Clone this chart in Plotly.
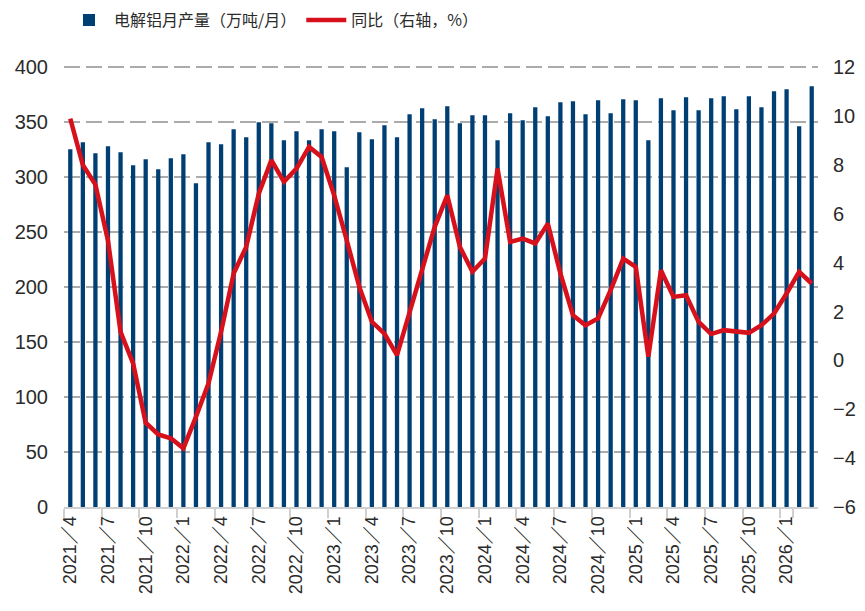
import plotly.graph_objects as go

months = [
    "2021／4", "2021／5", "2021／6", "2021／7", "2021／8", "2021／9", "2021／10", "2021／11", "2021／12",
    "2022／1", "2022／2", "2022／3", "2022／4", "2022／5", "2022／6", "2022／7", "2022／8", "2022／9",
    "2022／10", "2022／11", "2022／12", "2023／1", "2023／2", "2023／3", "2023／4", "2023／5", "2023／6",
    "2023／7", "2023／8", "2023／9", "2023／10", "2023／11", "2023／12", "2024／1", "2024／2", "2024／3",
    "2024／4", "2024／5", "2024／6", "2024／7", "2024／8", "2024／9", "2024／10", "2024／11", "2024／12",
    "2025／1", "2025／2", "2025／3", "2025／4", "2025／5", "2025／6", "2025／7", "2025／8", "2025／9",
    "2025／10", "2025／11", "2025／12", "2026／1", "2026／2", "2026／3",
]

production = [
    325.5, 331.8, 321.8, 328.2, 322.7, 310.9, 316.4, 307.3, 317.3, 320.9,
    294.5, 331.8, 330.0, 343.6, 336.4, 350.0, 349.0, 333.6, 341.8, 333.6,
    343.6, 341.8, 309.1, 340.9, 334.5, 347.3, 336.4, 357.3, 362.7, 352.7,
    364.5, 349.1, 356.4, 356.4, 333.6, 358.2, 351.8, 363.6, 355.5, 368.2,
    369.1, 357.3, 370.0, 358.2, 370.9, 370.0, 333.6, 371.8, 360.9, 372.7,
    360.9, 371.8, 373.6, 361.8, 373.6, 363.6, 378.2, 380.0, 346.4, 382.7,
]

yoy = [
    9.9, 8.0, 7.2, 4.9, 1.17, -0.12, -2.55, -3.03, -3.19, -3.6,
    -2.31, -0.94, 1.17, 3.56, 4.65, 6.83, 8.2, 7.31, 7.85, 8.74,
    8.33, 6.76, 4.92, 3.01, 1.58, 1.1, 0.22, 1.92, 3.76, 5.47,
    6.76, 4.65, 3.63, 4.17, 7.85, 4.85, 4.99, 4.79, 5.6, 3.56,
    1.85, 1.44, 1.72, 2.88, 4.17, 3.83, 0.15, 3.69, 2.6, 2.67,
    1.58, 1.08, 1.24, 1.17, 1.13, 1.44, 1.92, 2.74, 3.63, 3.15,
]

tick_labels = months[::3]
left_ticks = list(range(0, 401, 50))
right_ticks = list(range(-6, 13, 2))

BAR = "#003F74"
RED = "#D7111B"
TXT = "#2B2B2B"
FONT = "Liberation Sans, Noto Sans CJK SC, sans-serif"

fig = go.Figure()
fig.add_trace(go.Bar(
    x=months, y=production, name="电解铝月产量（万吨/月）",
    marker=dict(color=BAR, line=dict(width=0)), yaxis="y",
))
fig.add_trace(go.Scatter(
    x=months, y=yoy, name="同比（右轴，%）", mode="lines",
    line=dict(color=RED, width=4.5), yaxis="y2",
))

fig.update_layout(
    width=865, height=611,
    margin=dict(l=64, r=47, t=64, b=104, autoexpand=False),
    paper_bgcolor="white", plot_bgcolor="white",
    font=dict(family=FONT, color=TXT, size=17),
    bargap=0.66,
    showlegend=True,
    legend=dict(
        orientation="h", x=0.0, xanchor="left", y=1.099, yanchor="middle",
        font=dict(size=16, family="Noto Sans CJK SC, sans-serif", color=TXT),
        itemwidth=40, traceorder="normal", bgcolor="rgba(0,0,0,0)",
    ),
    xaxis=dict(
        type="category", tickmode="array", tickvals=tick_labels, ticktext=tick_labels,
        tickangle=-90, tickson="boundaries", ticks="outside", ticklen=9,
        tickwidth=2, tickcolor="#D0D0D0", showline=True, linecolor="#D0D0D0",
        linewidth=2, showgrid=False, tickfont=dict(size=18, color=TXT),
        range=[-0.5, 59.5],
    ),
    yaxis=dict(
        range=[0, 403], tickmode="array", tickvals=left_ticks,
        showgrid=True, gridcolor="#ABABAB", gridwidth=2, griddash="16px,6px",
        zeroline=False, ticks="", ticklabelstandoff=15,
        tickfont=dict(size=20, color=TXT),
    ),
    yaxis2=dict(
        range=[-6, 12.135], tickmode="array", tickvals=right_ticks,
        ticktext=[("−" + str(-v)) if v < 0 else str(v) for v in right_ticks],
        overlaying="y", side="right", showgrid=False, zeroline=False,
        ticks="", ticklabelstandoff=14, tickfont=dict(size=20, color=TXT),
    ),
)

fig.write_html("out.html", config={"displayModeBar": False},
               post_script="document.body.style.margin='0';")
